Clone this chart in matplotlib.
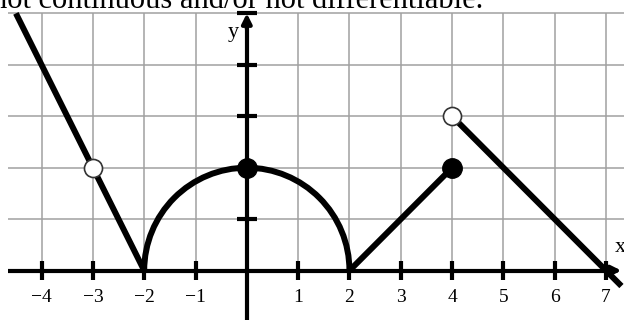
import numpy as np
import matplotlib.pyplot as plt
from matplotlib.patches import Arc

# values
left_x = [-4.5, -2]
left_y = [5, 0]
mid_x = [2, 4]
mid_y = [0, 2]
right_x = [4, 7.3]
right_y = [3, -0.3]
arc_center = (0, 0)
arc_radius = 2
open_x = [-3, 4]
open_y = [2, 3]
filled_x = [0, 4]
filled_y = [2, 2]
xticks = [-4, -3, -2, -1, 1, 2, 3, 4, 5, 6, 7]
xtick_labels = ['\u22124', '\u22123', '\u22122', '\u22121', '1', '2', '3', '4', '5', '6', '7']
yticks = [1, 2, 3, 4, 5]

plt.rcParams['font.family'] = ['Liberation Serif', 'DejaVu Serif']

fig = plt.figure(figsize=(6.24, 3.2), dpi=100)
ax = fig.add_axes([0, 0, 1, 1])
ax.set_xlim(-4.81, 7.35)
ax.set_ylim(-0.96, 5.26)
ax.axis('off')

# grid
grid_x = np.arange(-4, 8)
ax.vlines(grid_x, 0, 5, color='#a0a0a0', lw=1.1, zorder=1)
ax.hlines(yticks, -4.66, 7.4, color='#a0a0a0', lw=1.1, zorder=1)

# axes with arrows
ax.plot([-4.66, 7.1], [0, 0], color='k', lw=3, zorder=2, solid_capstyle='butt')
ax.annotate('', xy=(7.3, 0), xytext=(7.0, 0),
            arrowprops=dict(arrowstyle='-|>', lw=3, color='k', mutation_scale=14,
                            shrinkA=0, shrinkB=0), zorder=2)
ax.plot([0, 0], [-1.0, 4.8], color='k', lw=3, zorder=2, solid_capstyle='butt')
ax.annotate('', xy=(0, 5.0), xytext=(0, 4.7),
            arrowprops=dict(arrowstyle='-|>', lw=3, color='k', mutation_scale=14,
                            shrinkA=0, shrinkB=0), zorder=2)

# tick marks
ax.vlines(xticks, -0.19, 0.19, color='k', lw=3, zorder=2)
ax.hlines(yticks, -0.19, 0.19, color='k', lw=3, zorder=2)

for x, lab in zip(xticks, xtick_labels):
    ax.text(x, -0.53, lab, ha='center', va='center', fontsize=14)

ax.text(-0.27, 4.62, 'y', ha='center', va='center', fontsize=16)
ax.text(7.27, 0.45, 'x', ha='center', va='center', fontsize=16)

# the function
ax.plot(left_x, left_y, color='k', lw=4.3, zorder=3, solid_capstyle='butt')
ax.plot(mid_x, mid_y, color='k', lw=4.3, zorder=3, solid_capstyle='butt')
ax.plot(right_x, right_y, color='k', lw=4.3, zorder=3, solid_capstyle='butt')
ax.add_patch(Arc(arc_center, 2 * arc_radius, 2 * arc_radius, theta1=0, theta2=180,
                 color='k', lw=4.3, zorder=3))

ax.plot(open_x, open_y, 'o', ms=13, mfc='white', mec='#333333', mew=1.2, zorder=4)
ax.plot(filled_x, filled_y, 'o', ms=14, mfc='k', mec='k', zorder=4)

fig.text(-0.013, 1 - 8 / 320, 'not continuous and/or not differentiable.',
         fontsize=22, va='baseline', ha='left')

fig.savefig('out.png', dpi=100)
